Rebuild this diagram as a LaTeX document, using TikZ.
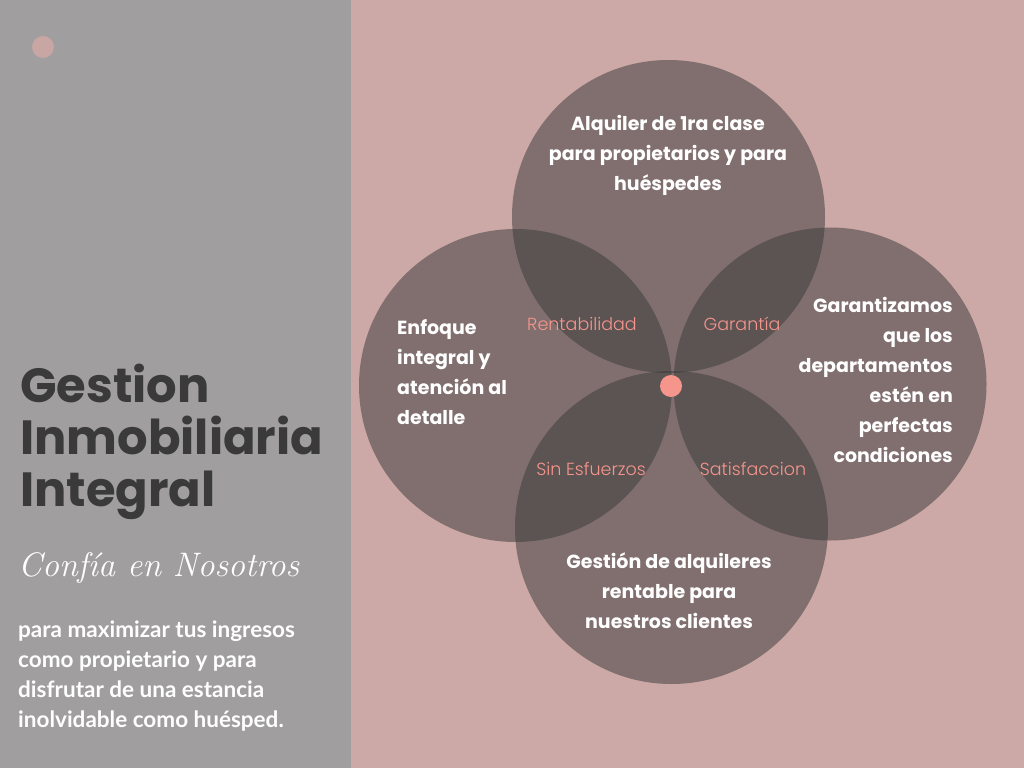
\documentclass[tikz,border=0pt]{standalone}
\usepackage{fontspec}
\newfontfamily\geofont{Poppins}
\newfontfamily\thinfont{Poppins Light}
\newfontfamily\bodyfont{Lato}
\usetikzlibrary{positioning}
\definecolor{panelgray}{RGB}{160,158,159}
\definecolor{rosebg}{RGB}{204,169,166}
\definecolor{bubblegray}{RGB}{59,59,60}
\definecolor{salmon}{RGB}{246,149,140}
\definecolor{titlegray}{RGB}{58,58,58}
\tikzset{
  bubble/.style={circle, fill=bubblegray, fill opacity=0.52, minimum size=313pt, inner sep=0pt},
  blurb/.style={text=white, font=\geofont\bfseries\fontsize{19}{30}\selectfont, inner sep=0pt},
  tag/.style={text=salmon, font=\thinfont\fontsize{17.5}{20}\selectfont, inner sep=0pt},
  spot/.style={circle, fill=#1, minimum size=22pt, inner sep=0pt},
}

\begin{document}
\begin{tikzpicture}[x=1pt, y=-1pt]
    \useasboundingbox (0,0) rectangle (1024,768);
    \fill[panelgray] (0,0) rectangle (351,768);
    \fill[rosebg] (351,0) rectangle (1024,768);
    \node[spot=rosebg!98!black] (mark) at (43,47) {};
    % four overlapping circles
    \node[bubble] (top) at (668.5,216.5) {};
    \node[bubble] (left) at (515.5,385.5) {};
    \node[bubble] (right) at (830,384) {};
    \node[bubble] (bottom) at (671.5,527.5) {};
    \node[spot=salmon] (c) at (671,386) {};
    % texts inside
    \node[blurb, align=center] (ttop) at (668,155) {Alquiler de 1ra clase\\para propietarios y para\\huéspedes};
    \node[blurb, align=left, anchor=west] (tleft) at (397,372) {Enfoque\\integral y\\atención al\\detalle};
    \node[blurb, align=right, anchor=east] (tright) at (953,380) {Garantizamos\\que los\\departamentos\\estén en\\perfectas\\condiciones};
    \node[blurb, align=center] (tbottom) at (669,591) {Gestión de alquileres\\rentable para\\nuestros clientes};
    \node[tag] (rent) at (582,324) {Rentabilidad};
    \node[tag] (gar) at (742,324) {Garantía};
    \node[tag] (sin) at (591,469) {Sin Esfuerzos};
    \node[tag] (sat) at (753,469) {Satisfaccion};
    % left panel
    \node[anchor=west, align=left, inner sep=0pt, text=titlegray,
      font=\geofont\bfseries\fontsize{48}{52}\selectfont] (title) at (20,442)
      {Gestion\\Inmobiliaria\\Integral};
    \node[anchor=west, inner sep=0pt, text=white,
      font=\itshape\fontsize{34}{40}\selectfont] (slogan) at (18,568) {Confía en Nosotros};
    \node[anchor=west, align=left, inner sep=0pt, text=white,
      font=\bodyfont\bfseries\fontsize{22.5}{30}\selectfont] (body) at (18,676)
      {para maximizar tus ingresos\\como propietario y para\\disfrutar de una estancia\\inolvidable como huésped.};
\end{tikzpicture}
\end{document}
